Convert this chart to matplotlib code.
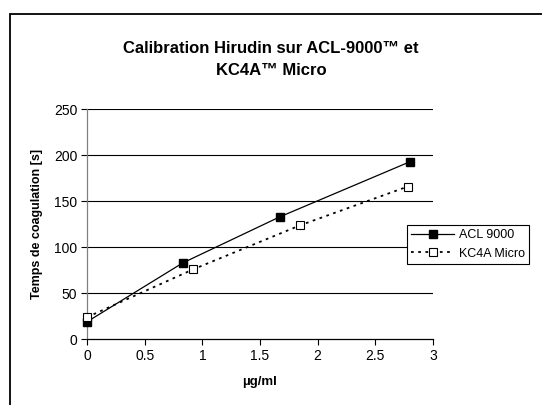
import matplotlib
matplotlib.use("Agg")
import matplotlib.pyplot as plt
from matplotlib.patches import Rectangle

plt.rcParams['font.family'] = ['Liberation Sans', 'DejaVu Sans']

# data
acl_x = [0, 0.83, 1.67, 2.8]
acl_y = [19, 83, 133, 193]
kc4a_x = [0, 0.92, 1.85, 2.78]
kc4a_y = [24, 76, 124, 166]
x_ticks = [0, 0.5, 1, 1.5, 2, 2.5, 3]
y_ticks = [0, 50, 100, 150, 200, 250]

fig = plt.figure(figsize=(5.42, 4.05), dpi=100)

# outer chart frame (runs off right and bottom edges like the original)
fig.patches.append(Rectangle((10 / 542, -0.1), 1.2, 1 - 13.5 / 405 + 0.1,
                             transform=fig.transFigure, fill=False,
                             edgecolor='black', linewidth=1.3, zorder=0))

ax = fig.add_axes([87 / 542, 1 - 339.3 / 405, 346 / 542, 230 / 405])
ax.set_xlim(0, 3)
ax.set_ylim(0, 250)

for v in y_ticks[1:]:
    ax.axhline(v, color='black', linewidth=0.8, zorder=1)

ax.plot(acl_x, acl_y, color='black', linewidth=0.9, marker='s', markersize=5.5,
        markerfacecolor='black', markeredgecolor='black', label='ACL 9000',
        zorder=3, clip_on=False)
ax.plot(kc4a_x, kc4a_y, color='black', linewidth=1.3, linestyle=(0, (1.5, 2.5)),
        marker='s', markersize=5.5, markerfacecolor='white', markeredgecolor='black',
        markeredgewidth=0.8, label='KC4A Micro', zorder=3, clip_on=False)

for side in ['top', 'right']:
    ax.spines[side].set_visible(False)
ax.spines['left'].set_color('#808080')
ax.spines['bottom'].set_color('black')
ax.spines['left'].set_linewidth(0.9)
ax.spines['bottom'].set_linewidth(0.9)

ax.set_xticks(x_ticks)
ax.set_xticklabels(['0', '0.5', '1', '1.5', '2', '2.5', '3'])
ax.set_yticks(y_ticks)
ax.tick_params(axis='both', labelsize=10, length=4, width=0.8, direction='out', pad=3)

ax.set_xlabel('µg/ml', fontsize=9.5, fontweight='bold', labelpad=9)
ax.set_ylabel('Temps de coagulation [s]', fontsize=9, fontweight='bold', labelpad=8)

fig.text(271 / 542, 1 - 59.5 / 405, 'Calibration Hirudin sur ACL-9000™ et\nKC4A™ Micro',
         ha='center', va='center', fontsize=12, fontweight='bold', linespacing=1.6)

leg = ax.legend(loc='upper left', bbox_to_anchor=(407 / 542, 1 - 225 / 405),
                bbox_transform=fig.transFigure, fontsize=9, frameon=True,
                fancybox=False, edgecolor='black', framealpha=1, borderpad=0.35,
                handlelength=3.4, handletextpad=0.4, labelspacing=0.5,
                borderaxespad=0)
leg.get_frame().set_linewidth(0.8)
leg.set_zorder(5)

fig.savefig('out.png', dpi=100)
